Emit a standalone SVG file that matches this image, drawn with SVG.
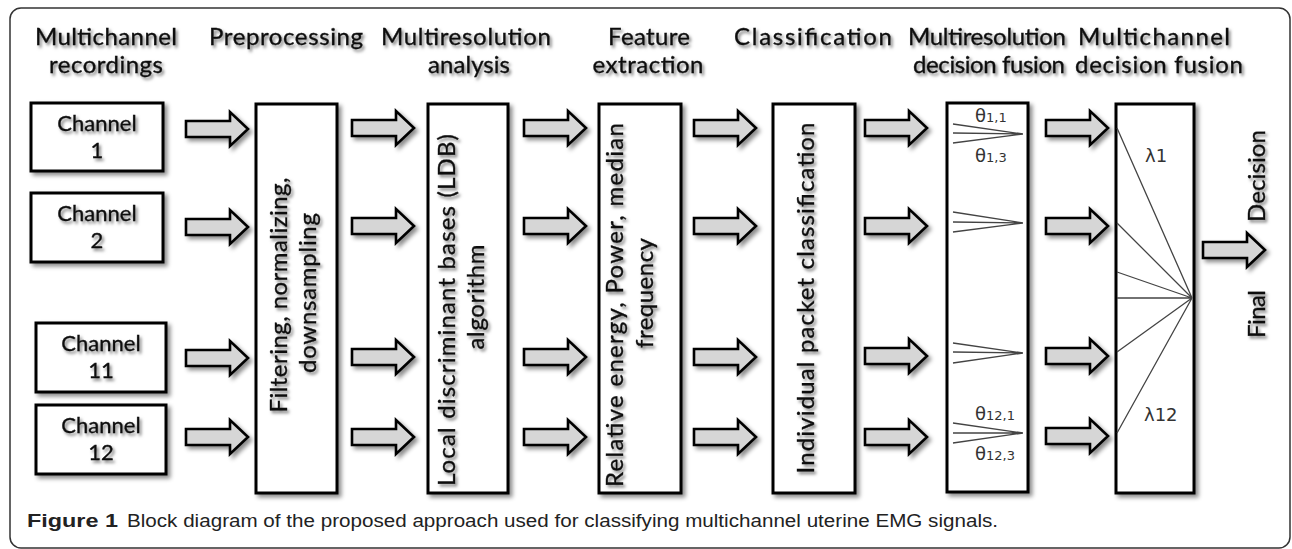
<svg xmlns="http://www.w3.org/2000/svg" width="1292" height="549" viewBox="0 0 1292 549">
<defs>
<filter id="bsh" x="-20%" y="-20%" width="150%" height="150%"><feDropShadow dx="3" dy="3" stdDeviation="2" flood-color="#000" flood-opacity="0.45"/></filter>
<filter id="tsh" x="-20%" y="-20%" width="150%" height="150%"><feDropShadow dx="2" dy="2.5" stdDeviation="1.6" flood-color="#000" flood-opacity="0.5"/></filter>
<path id="arr" d="M0,-8 L44,-8 L44,-17 L62,0 L44,17 L44,8 L0,8 Z"/>
</defs>
<style>
.box{fill:#fff;stroke:#000;stroke-width:3}
.ar{fill:#d6d6d6;stroke:#000;stroke-width:2.6;stroke-linejoin:miter}
.hd,.bt,.rt{font-family:Lato,"Liberation Sans",sans-serif;fill:#111;stroke:#111;stroke-width:0.35;text-anchor:middle}
.hd{font-size:24px}
.bt{font-size:22px}
.rt{font-size:24px}
.gk{font-family:"DejaVu Sans","Liberation Sans",sans-serif;font-size:18px;fill:#333}
.sb{font-size:13px}
.fan{stroke:#444;stroke-width:1.3;fill:none}
.cap{font-family:"Liberation Sans",Arial,sans-serif;font-size:17.5px;fill:#222}
</style>
<rect x="10" y="8" width="1280" height="540" rx="11" fill="none" stroke="#333" stroke-width="1.5"/>

<g id="headers" filter="url(#tsh)">
<text class="hd" x="106" y="45" textLength="142">Multichannel</text>
<text class="hd" x="106" y="73" textLength="114">recordings</text>
<text class="hd" x="286" y="45" textLength="154">Preprocessing</text>
<text class="hd" x="466" y="45" textLength="170">Multiresolution</text>
<text class="hd" x="469" y="73" textLength="82">analysis</text>
<text class="hd" x="649" y="45" textLength="82">Feature</text>
<text class="hd" x="648" y="73" textLength="111">extraction</text>
<text class="hd" x="813" y="45" textLength="158">Classification</text>
<text class="hd" x="987" y="45" textLength="158">Multiresolution</text>
<text class="hd" x="989" y="73" textLength="152">decision fusion</text>
<text class="hd" x="1154" y="45" textLength="152">Multichannel</text>
<text class="hd" x="1159" y="73" textLength="168">decision fusion</text>
</g>

<g id="ch1"><rect class="box" x="31" y="103" width="132" height="68" filter="url(#bsh)"/><g filter="url(#tsh)"><text class="bt" x="97" y="131">Channel</text><text class="bt" x="97" y="158">1</text></g></g>
<g id="ch2"><rect class="box" x="31" y="193" width="132" height="69" filter="url(#bsh)"/><g filter="url(#tsh)"><text class="bt" x="97" y="221">Channel</text><text class="bt" x="97" y="248">2</text></g></g>
<g id="ch11"><rect class="box" x="36" y="323" width="130" height="69" filter="url(#bsh)"/><g filter="url(#tsh)"><text class="bt" x="101" y="351">Channel</text><text class="bt" x="101" y="378">11</text></g></g>
<g id="ch12"><rect class="box" x="36" y="405" width="130" height="69" filter="url(#bsh)"/><g filter="url(#tsh)"><text class="bt" x="101" y="433">Channel</text><text class="bt" x="101" y="460">12</text></g></g>

<g id="pre"><rect class="box" x="256" y="104" width="81" height="389" filter="url(#bsh)"/>
<g filter="url(#tsh)"><text class="rt" transform="translate(287,295) rotate(-90)" textLength="235">Filtering, normalizing,</text><text class="rt" transform="translate(316,293) rotate(-90)" textLength="160">downsampling</text></g></g>

<g id="ldb"><rect class="box" x="428" y="104" width="80" height="389" filter="url(#bsh)"/>
<g filter="url(#tsh)"><text class="rt" transform="translate(455,310) rotate(-90)" textLength="352">Local discriminant bases (LDB)</text><text class="rt" transform="translate(484,297) rotate(-90)" textLength="105">algorithm</text></g></g>

<g id="feat"><rect class="box" x="599" y="104" width="82" height="389" filter="url(#bsh)"/>
<g filter="url(#tsh)"><text class="rt" transform="translate(623,305) rotate(-90)" textLength="364">Relative energy, Power, median</text><text class="rt" transform="translate(653,293) rotate(-90)" textLength="110">frequency</text></g></g>

<g id="cls"><rect class="box" x="773" y="104" width="82" height="389" filter="url(#bsh)"/>
<g filter="url(#tsh)"><text class="rt" transform="translate(814,298) rotate(-90)" textLength="351">Individual packet classification</text></g></g>

<g id="mrf"><rect class="box" x="947" y="103" width="81" height="389" filter="url(#bsh)"/>
<g class="fan">
<path d="M953,124 L1023,134 M953,133 L1023,134 M953,143 L1023,134"/>
<path d="M953,212 L1023,223 M953,222 L1023,223 M953,232 L1023,223"/>
<path d="M953,343 L1023,353 M953,352 L1023,353 M953,363 L1023,353"/>
<path d="M953,423 L1023,433 M953,433 L1023,433 M953,443 L1023,433"/>
</g>
<text class="gk" x="975" y="122">θ<tspan class="sb">1,1</tspan></text>
<text class="gk" x="975" y="162">θ<tspan class="sb">1,3</tspan></text>
<text class="gk" x="975" y="420">θ<tspan class="sb">12,1</tspan></text>
<text class="gk" x="975" y="460">θ<tspan class="sb">12,3</tspan></text>
</g>

<g id="mcf"><rect class="box" x="1116" y="104" width="78" height="389" filter="url(#bsh)"/>
<g class="fan">
<path d="M1117,128 L1192,298 M1117,223 L1192,298 M1117,272 L1192,298 M1117,298 L1192,298 M1117,352 L1192,298 M1117,433 L1192,298"/>
</g>
<text class="gk" x="1145" y="162">λ1</text>
<text class="gk" x="1144" y="421">λ12</text>
</g>

<g id="connectors" filter="url(#bsh)">
<use href="#arr" class="ar" x="186" y="129"/><use href="#arr" class="ar" x="186" y="227"/><use href="#arr" class="ar" x="186" y="358"/><use href="#arr" class="ar" x="186" y="437"/>
<use href="#arr" class="ar" x="352" y="128"/><use href="#arr" class="ar" x="352" y="226"/><use href="#arr" class="ar" x="352" y="357"/><use href="#arr" class="ar" x="352" y="437"/>
<use href="#arr" class="ar" x="524" y="128"/><use href="#arr" class="ar" x="524" y="226"/><use href="#arr" class="ar" x="524" y="357"/><use href="#arr" class="ar" x="524" y="437"/>
<use href="#arr" class="ar" x="694" y="128"/><use href="#arr" class="ar" x="694" y="226"/><use href="#arr" class="ar" x="694" y="357"/><use href="#arr" class="ar" x="694" y="437"/>
<use href="#arr" class="ar" x="865" y="128"/><use href="#arr" class="ar" x="865" y="226"/><use href="#arr" class="ar" x="865" y="356"/><use href="#arr" class="ar" x="865" y="437"/>
<use href="#arr" class="ar" x="1046" y="128"/><use href="#arr" class="ar" x="1046" y="226"/><use href="#arr" class="ar" x="1046" y="356"/><use href="#arr" class="ar" x="1046" y="436"/>
<use href="#arr" class="ar" x="1203" y="250"/>
</g>

<g id="final" filter="url(#tsh)">
<text class="rt" transform="translate(1265,176) rotate(-90)" textLength="92">Decision</text>
<text class="rt" transform="translate(1265,314) rotate(-90)" textLength="48">Final</text>
</g>

<g id="caption">
<text class="cap" x="27" y="527" font-weight="bold" textLength="91" lengthAdjust="spacingAndGlyphs">Figure 1</text>
<text class="cap" x="127" y="527" textLength="871" lengthAdjust="spacingAndGlyphs">Block diagram of the proposed approach used for classifying multichannel uterine EMG signals.</text>
</g>
</svg>
